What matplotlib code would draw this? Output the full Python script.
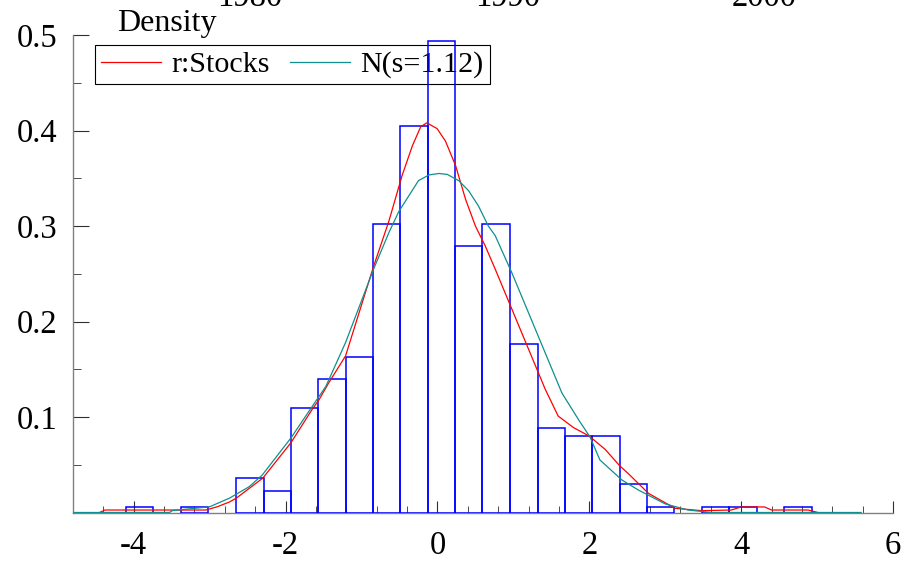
import numpy as np
import matplotlib.pyplot as plt
from matplotlib.ticker import MultipleLocator

plt.rcParams['font.family'] = ['Liberation Serif', 'DejaVu Serif']
plt.rcParams['axes.unicode_minus'] = False

# histogram of standardised returns (density scale)
bin_edges = [-4.10, -3.74, -3.38, -3.02, -2.65, -2.29, -1.93, -1.57, -1.21,
             -0.85, -0.49, -0.13, 0.23, 0.59, 0.95, 1.32, 1.68, 2.04, 2.40,
             2.76, 3.12, 3.48, 3.84, 4.21, 4.57, 4.93]
bin_density = [0.006, 0.0, 0.006, 0.0, 0.036, 0.023, 0.109, 0.140, 0.163,
               0.302, 0.405, 0.494, 0.279, 0.302, 0.176, 0.089, 0.080, 0.080,
               0.030, 0.006, 0.0, 0.006, 0.006, 0.0, 0.006]

# kernel density estimate
kde_x = [-4.45, -4.38, -3.05, -2.90, -2.74, -2.65, -2.30, -1.93, -1.65, -1.56,
         -1.43, -1.21, -0.84, -0.64, -0.465, -0.33, -0.22, -0.14, -0.005, 0.105,
         0.24, 0.37, 0.50, 0.63, 0.76, 0.98, 1.20, 1.42, 1.59, 1.79,
         2.00, 2.21, 2.40, 2.51, 2.60, 2.78, 3.13, 3.48, 3.87, 4.00,
         4.31, 4.40, 4.88, 5.01]
kde_y = [0.0, 0.0026, 0.0026, 0.006, 0.011, 0.015, 0.036, 0.073, 0.108, 0.118,
         0.136, 0.164, 0.258, 0.305, 0.353, 0.384, 0.404, 0.408, 0.402, 0.389,
         0.363, 0.328, 0.300, 0.279, 0.255, 0.213, 0.171, 0.129, 0.101, 0.089,
         0.080, 0.066, 0.049, 0.041, 0.034, 0.020, 0.0044, 0.0019, 0.0026, 0.0058,
         0.0058, 0.0026, 0.0026, 0.0]

# reference normal density N(s=1.12)
norm_x = [-4.80, -3.53, -3.49, -3.00, -2.74, -2.48, -2.31, -1.93, -1.65, -1.47,
          -1.21, -0.84, -0.64, -0.51, -0.25, -0.11, 0.02, 0.13, 0.28, 0.41,
          0.54, 0.67, 0.76, 0.98, 1.20, 1.42, 1.64, 1.86, 2.01, 2.14,
          2.43, 2.645, 2.78, 3.00, 3.30, 3.61, 5.58]
norm_y = [0.0, 0.0, 0.002, 0.006, 0.015, 0.027, 0.039, 0.078, 0.111, 0.132,
          0.178, 0.255, 0.293, 0.315, 0.3475, 0.3535, 0.355, 0.354, 0.3475, 0.337,
          0.321, 0.300, 0.290, 0.251, 0.209, 0.167, 0.125, 0.097, 0.079, 0.055,
          0.034, 0.0236, 0.018, 0.009, 0.0026, 0.0, 0.0]

year_labels = ['1980', '1990', '2000']
year_pos = [250, 508, 764]

fig = plt.figure(figsize=(9.03, 5.62), dpi=100)
ax = fig.add_axes([73 / 903, 1 - 512.5 / 562, 820 / 903, 477.5 / 562])

edges = np.array(bin_edges)
dens = np.array(bin_density)
keep = dens > 0
ax.bar(edges[:-1][keep], dens[keep], width=np.diff(edges)[keep], align='edge',
       fill=False, edgecolor='#0000ff', linewidth=1.1, zorder=3)

ax.plot(kde_x, kde_y, color='#ff0000', lw=0.9, label='r:Stocks', zorder=4)
ax.plot(norm_x, norm_y, color='#0f8f8f', lw=0.9, label='N(s=1.12)', zorder=4)

ax.set_xlim(-4.8, 6)
ax.set_ylim(0, 0.5)
ax.xaxis.set_major_locator(MultipleLocator(2))
ax.xaxis.set_minor_locator(MultipleLocator(0.4))
ax.set_yticks([0.1, 0.2, 0.3, 0.4, 0.5])
ax.yaxis.set_minor_locator(MultipleLocator(0.05))

for s in ['top', 'right']:
    ax.spines[s].set_visible(False)
for s in ['left', 'bottom']:
    ax.spines[s].set_color('#808080')
    ax.spines[s].set_linewidth(1.0)

ax.tick_params(which='both', direction='in', color='#303030', labelsize=23.5)
ax.tick_params(axis='y', which='major', length=11.5, pad=11)
ax.tick_params(axis='y', which='minor', length=6)
ax.tick_params(axis='x', which='major', length=9, pad=13)
ax.tick_params(axis='x', which='minor', length=5)

leg = ax.legend(ncol=2, loc='upper left',
                bbox_to_anchor=((95 - 73) / 820, (512.5 - 45) / 477.5),
                borderaxespad=0, fontsize=21.6, handlelength=2.0,
                handletextpad=0.33, columnspacing=0.7, borderpad=0.2,
                fancybox=False, framealpha=1, edgecolor='black')
leg.get_frame().set_linewidth(0.8)
leg.set_zorder(2)

ax.text((117 - 73) / 820, 1.0084, 'Density', transform=ax.transAxes,
        fontsize=23, va='baseline')

# labels of the panel above, cut off by the top edge
for lab, xp in zip(year_labels, year_pos):
    fig.text(xp / 903, 1 - 6 / 562, lab, ha='center', va='baseline', fontsize=23.5)

fig.savefig('out.png', dpi=100)
